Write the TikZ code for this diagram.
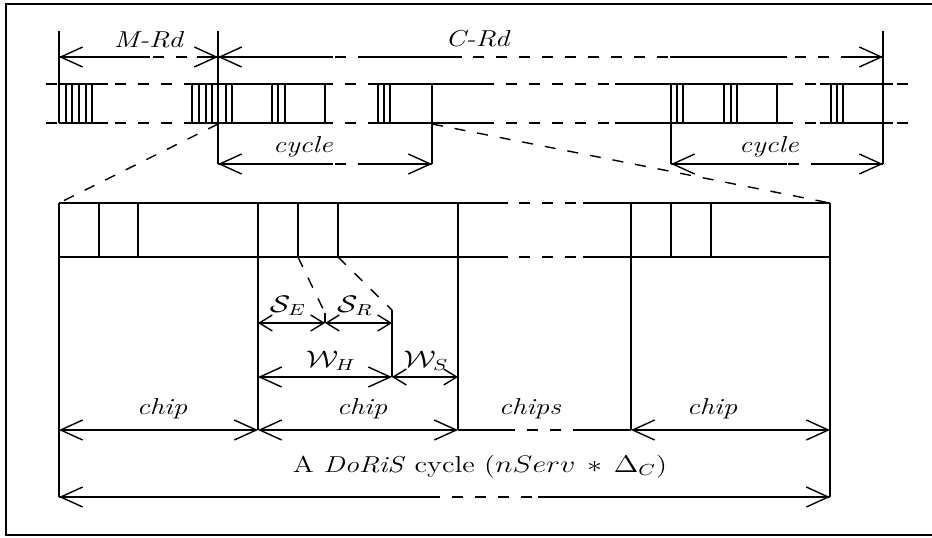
\documentclass[tikz,border=0pt]{standalone}
\usepackage{amsmath}
\usepackage{amssymb}
\usetikzlibrary{arrows.meta}

\tikzset{
    ln/.style={line width=0.7pt},
    gap/.style={line width=0.7pt, dash pattern=on 5.5pt off 6pt},
    bigtip/.style={{Straight Barb[length=11pt,width=10pt]}-{Straight Barb[length=11pt,width=10pt]}},
    smalltip/.style={{Straight Barb[length=6.5pt,width=8pt]}-{Straight Barb[length=6.5pt,width=8pt]}},
    lbl/.style={font=\fontsize{11.5}{13}\selectfont, inner sep=0pt, anchor=base, xscale=1.25}
}

\begin{document}
\begin{tikzpicture}[x=0.5pt, y=-0.5pt]
\useasboundingbox (0,0) rectangle (932,537);

% Frame
\draw[line width=0.8pt] (932,4) -- (6,4) -- (6,535) -- (932,535);

% Time line of the rounds
\foreach \y in {84,123} {
    \draw[gap] (46,\y) -- (910,\y);
    \foreach \a/\b in {59/108,192/327,368/490,615/787,820/893}
        \draw[ln] (\a,\y) -- (\b,\y);
}

% Slots
\foreach \x in {66,72,79,86,92,192,199,206,212,226,232,272,278,285,325,
                378,384,390,677,683,724,731,737,777,831,837,843}
    \draw[ln] (\x,84) -- (\x,123);

% Round and cycle bounds
\draw[ln] (59,31) -- (59,123);
\draw[ln] (218,31) -- (218,164);
\draw[ln] (432,84) -- (432,164);
\draw[ln] (671,84) -- (671,164);
\draw[ln] (883,31) -- (883,164);

% M-Rd and C-Rd
\draw[gap, bigtip] (59,57) -- (218,57);
\draw[ln] (59,57) -- (150,57);
\draw[ln] (197,57) -- (218,57);
\node[lbl] (mrd) at (149,47) {\textit{M-Rd}};

\draw[gap, bigtip] (218,57) -- (883,57);
\foreach \a/\b in {218/333,368/462,670/787,842/883}
    \draw[ln] (\a,57) -- (\b,57);
\node[lbl] (crd) at (478,46) {\textit{C-Rd}};

% Cycles
\draw[gap, bigtip] (218,164) -- (432,164);
\draw[ln] (218,164) -- (333,164);
\draw[ln] (365,164) -- (432,164);
\node[lbl] (cycA) at (303,152) {\textit{cycle}};

\draw[gap, bigtip] (671,164) -- (883,164);
\draw[ln] (671,164) -- (787,164);
\draw[ln] (820,164) -- (883,164);
\node[lbl] (cycB) at (769,152) {\textit{cycle}};

% Zoom on one cycle
\draw[gap] (218,124) -- (59,203);
\draw[gap] (432,124) -- (830,203);

% Chips of the cycle
\foreach \y in {203,257} {
    \draw[gap] (59,\y) -- (830,\y);
    \draw[ln] (59,\y) -- (508,\y);
    \draw[ln] (583,\y) -- (830,\y);
}
\foreach \x in {99,138,298,338,671,711}
    \draw[ln] (\x,203) -- (\x,257);
\draw[ln] (59,203) -- (59,497);
\draw[ln] (258,203) -- (258,430);
\draw[ln] (458,203) -- (458,430);
\draw[ln] (631,203) -- (631,430);
\draw[ln] (830,203) -- (830,497);

% Detail of one chip
\draw[gap] (298,257) -- (325,313);
\draw[ln] (325,313) -- (325,323);
\draw[gap] (338,257) -- (392,310);
\draw[ln] (392,310) -- (392,377);

\draw[ln, smalltip] (258,323) -- (325,323);
\draw[ln, smalltip] (325,323) -- (392,323);
\node[lbl] (se) at (288,312) {$\mathcal{S}_E$};
\node[lbl] (sr) at (355,312) {$\mathcal{S}_R$};

\draw[ln, bigtip] (258,377) -- (392,377);
\draw[ln, smalltip] (392,377) -- (458,377);
\node[lbl] (wh) at (331,367) {$\mathcal{W}_H$};
\node[lbl] (ws) at (426,367) {$\mathcal{W}_S$};

% Chip lengths
\draw[ln, bigtip] (59,430) -- (258,430);
\draw[ln, bigtip] (258,430) -- (458,430);
\draw[gap] (458,430) -- (631,430);
\draw[ln] (458,430) -- (509,430);
\draw[ln] (584,430) -- (631,430);
\draw[ln, bigtip] (631,430) -- (830,430);
\node[lbl] (chA) at (162,414) {\textit{chip}};
\node[lbl] (chB) at (362,414) {\textit{chip}};
\node[lbl] (chC) at (530,414) {\textit{chips}};
\node[lbl] (chD) at (712,414) {\textit{chip}};

% Whole cycle
\draw[gap, bigtip] (59,497) -- (830,497);
\draw[ln] (59,497) -- (431,497);
\draw[ln] (538,497) -- (830,497);
\node[lbl] (doris) at (480,472) {A \textit{DoRiS} cycle ($nServ\,\ast\,\Delta_C$)};

\end{tikzpicture}
\end{document}
